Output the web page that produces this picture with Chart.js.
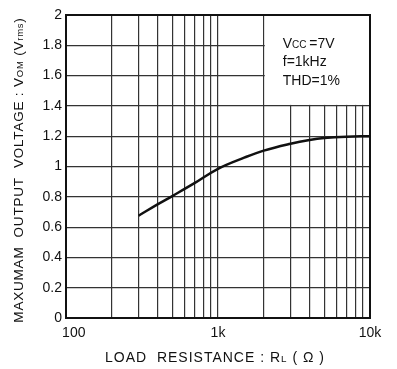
<!DOCTYPE html>
<html>
<head>
<meta charset="utf-8">
<script src="https://cdn.jsdelivr.net/npm/chart.js@4"></script>
<style>
  html, body { margin: 0; padding: 0; background: #fff; }
  .chart-wrap { width: 397px; height: 369px; position: relative; }
</style>
</head>
<body>
<div class="chart-wrap"><canvas id="chart"></canvas></div>
<script>
  // load resistance (ohm) vs. max output voltage (Vrms)
  const resistance = [300, 400, 500, 700, 1000, 1500, 2000, 3000, 4000, 5000, 7000, 10000];
  const outputVoltage = [0.675, 0.75, 0.805, 0.89, 0.985, 1.06, 1.105, 1.15, 1.175, 1.188, 1.197, 1.2];

  const xGrid = [100, 200, 300, 400, 500, 600, 700, 800, 900,
    1000, 2000, 3000, 4000, 5000, 6000, 7000, 8000, 9000, 10000];
  const xLabels = { 100: "    100", 1000: "1k", 10000: "10k" };
  const yGrid = [0, 0.2, 0.4, 0.6, 0.8, 1, 1.2, 1.4, 1.6, 1.8, 2];

  const FONT = '"Liberation Sans", Arial, sans-serif';

  // draws text runs centred on x, some of them as small subscripts
  function drawRuns(ctx, runs, x, y, size, spacing) {
    ctx.letterSpacing = spacing + "px";
    let w = 0;
    runs.forEach(([t, sub]) => {
      ctx.font = `${sub ? size * 0.7 : size}px ${FONT}`;
      w += ctx.measureText(t).width;
    });
    let cx = x - w / 2;
    runs.forEach(([t, sub]) => {
      ctx.font = `${sub ? size * 0.7 : size}px ${FONT}`;
      ctx.fillText(t, cx, y + (sub ? 1.5 : 0));
      cx += ctx.measureText(t).width;
    });
    ctx.letterSpacing = "0px";
  }

  const frame = {
    id: "frame",
    beforeDatasetsDraw(chart) {
      const { ctx, scales } = chart;
      const x0 = scales.x.getPixelForValue(2000);
      const x1 = scales.x.getPixelForValue(10000);
      const y0 = scales.y.getPixelForValue(2);
      const y1 = scales.y.getPixelForValue(1.4);
      ctx.save();
      ctx.fillStyle = "#fff";
      ctx.fillRect(x0 + 1, y0, x1 - x0 - 1, y1 - y0 - 1);
      ctx.fillStyle = "#111";
      ctx.textBaseline = "alphabetic";
      ctx.textAlign = "left";
      const tx = x0 + 19;
      let cx = tx;
      ctx.font = `14px ${FONT}`;
      ctx.fillText("V", cx, 48);
      cx += ctx.measureText("V").width;
      ctx.font = `10px ${FONT}`;
      ctx.fillText("CC", cx, 48);
      cx += ctx.measureText("CC ").width;
      ctx.font = `14px ${FONT}`;
      ctx.fillText("=7V", cx, 48);
      ctx.fillText("f=1kHz", tx, 66);
      ctx.fillText("THD=1%", tx, 85);
      ctx.restore();
    },
    afterDraw(chart) {
      const { ctx, chartArea: a } = chart;
      ctx.save();
      ctx.strokeStyle = "#111";
      ctx.lineWidth = 2;
      ctx.strokeRect(a.left, a.top, a.right - a.left, a.bottom - a.top);

      ctx.fillStyle = "#111";
      ctx.textAlign = "left";
      ctx.textBaseline = "middle";
      drawRuns(ctx, [["LOAD  RESISTANCE : R", false], ["L", true], [" ( Ω )", false]], 215, 358, 14, 1);

      ctx.translate(19, 170);
      ctx.rotate(-Math.PI / 2);
      drawRuns(ctx, [["MAXUMAM  OUTPUT  VOLTAGE : V", false], ["OM", true],
        [" (V", false], ["rms", true], [")", false]], 0, 0, 13.5, 0.8);
      ctx.restore();
    }
  };

  new Chart(document.getElementById("chart"), {
    type: "line",
    data: {
      datasets: [{
        data: resistance.map((r, i) => ({ x: r, y: outputVoltage[i] })),
        borderColor: "#111",
        borderWidth: 2.5,
        pointRadius: 0,
        tension: 0.4,
        fill: false
      }]
    },
    options: {
      responsive: true,
      maintainAspectRatio: false,
      animation: false,
      layout: { padding: { top: 15, right: 27, left: 0, bottom: 0 } },
      plugins: { legend: { display: false }, tooltip: { enabled: false } },
      scales: {
        x: {
          type: "logarithmic",
          min: 100,
          max: 10000,
          afterBuildTicks: (scale) => { scale.ticks = xGrid.map((v) => ({ value: v })); },
          afterFit: (scale) => { scale.height = 51; },
          grid: { color: "#333", lineWidth: 1.2, drawTicks: false },
          border: { display: false },
          ticks: {
            autoSkip: false,
            maxRotation: 0,
            padding: 7,
            color: "#111",
            font: { family: FONT, size: 14 },
            callback: (v) => xLabels[v] || ""
          }
        },
        y: {
          min: 0,
          max: 2,
          afterBuildTicks: (scale) => { scale.ticks = yGrid.map((v) => ({ value: v })); },
          afterFit: (scale) => { scale.width = 66; },
          grid: { color: "#333", lineWidth: 1.2, drawTicks: false },
          border: { display: false },
          ticks: {
            padding: 4,
            color: "#111",
            font: { family: FONT, size: 14 },
            callback: (v) => String(Math.round(v * 10) / 10)
          }
        }
      }
    },
    plugins: [frame]
  });
</script>
</body>
</html>
